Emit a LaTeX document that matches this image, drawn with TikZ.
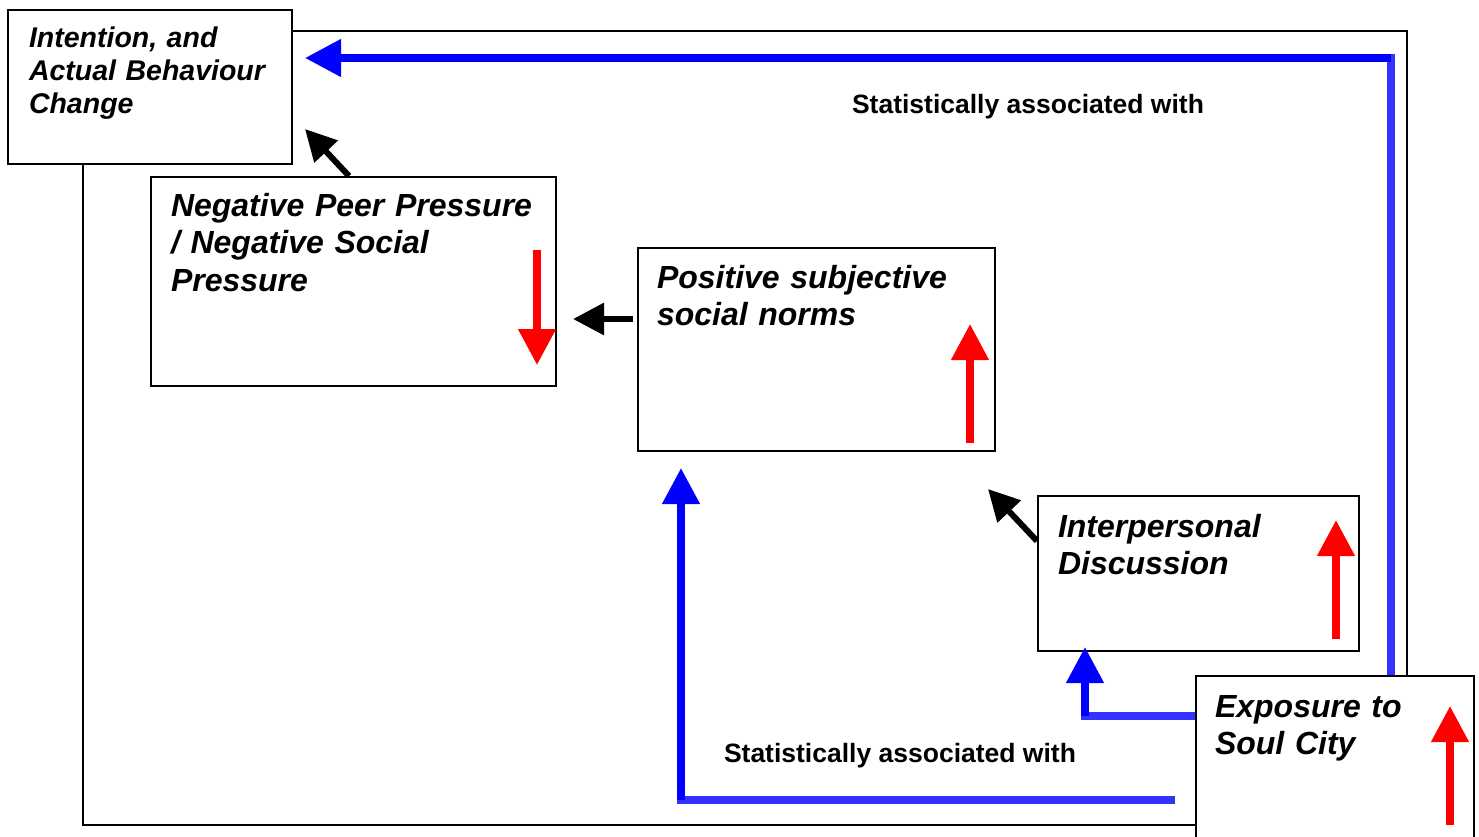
\documentclass[tikz,border=0pt]{standalone}
\usepackage{fontspec}
\setmainfont{Liberation Sans}
\usetikzlibrary{arrows.meta}
\definecolor{arrblue}{RGB}{0,0,255}
\definecolor{linkblue}{RGB}{51,51,255}
\definecolor{arrred}{RGB}{255,0,0}

\begin{document}
\begin{tikzpicture}[x=1pt, y=-1pt, line width=2pt] %[>=Triangle]
            \tikzstyle{every node}=[inner sep=0pt]
            \tikzstyle{box}=[draw, fill=white, anchor=north west]
            \tikzstyle{boxtext}=[anchor=base west, text width=420pt, align=left, font=\fontsize{32}{37.5}\selectfont\bfseries\itshape]
            \tikzstyle{stat}=[font=\fontsize{26.5}{30}\selectfont\bfseries]
            \tikzstyle{bluearr}=[arrblue, line width=7.5pt, -{Triangle[width=36pt,length=36pt]}]
            \tikzstyle{bluelink}=[linkblue, line width=7.5pt]
            \tikzstyle{redarr}=[arrred, line width=7.5pt, -{Triangle[width=36pt,length=36pt]}]
            \tikzstyle{blackarr}=[line width=6pt, -{Triangle[width=31pt,length=31pt]}]
            \useasboundingbox (0,0) rectangle (1479,837);

            % outer frame
            \coordinate (fr) at (1407, 31);
            \coordinate (fl) at (83, 825);
            \node[box, minimum width=284pt, minimum height=154pt] (intent) at (7, 9) {};
            \node[box, minimum width=278pt, minimum height=180pt] (expo) at (1195, 675) {};
            \draw (intent.east |- fr) -- (fr) -- (fr |- expo.north);
            \draw (fl |- intent.south) -- (fl) -- (fl -| expo.west);

            \node[box, minimum width=405pt, minimum height=209pt] (neg) at (150, 176) {};
            \node[box, minimum width=357pt, minimum height=203pt] (pos) at (637, 247) {};
            \node[box, minimum width=321pt, minimum height=155pt] (interp) at (1037, 495) {};

            \node[boxtext, font=\fontsize{28.5}{33}\selectfont\bfseries\itshape] (intenttxt) at (28, 48) {Intention, and\\Actual Behaviour\\Change};
            \node[boxtext] (negtxt) at (170, 216) {Negative Peer Pressure\\/ Negative Social\\Pressure};
            \node[boxtext] (postxt) at (656, 288) {Positive subjective\\social norms};
            \node[boxtext] (interptxt) at (1057, 537) {Interpersonal\\Discussion};
            \node[boxtext] (expotxt) at (1214, 717) {Exposure to\\Soul City};

            \node[stat] (stattop) at (1028, 107) {Statistically associated with};
            \node[stat] (statbot) at (900, 756) {Statistically associated with};

            % blue links
            \coordinate (tc) at (1391, 58);
            \coordinate (mc) at (1085, 716);
            \coordinate (bc) at (681, 800);
            \coordinate (bl) at (1175, 800);
            \draw[bluelink] (tc |- expo.north) -- ([yshift=3.75pt]tc);
            \draw[bluearr, shorten >=12pt] (tc) -- (intent.east |- tc);
            \draw[bluelink] (expo.west |- mc) -- ([xshift=-3.75pt]mc);
            \draw[bluearr, shorten >=-5pt] (mc) -- (mc |- interp.south);
            \draw[bluelink] (bl) -- ([xshift=-3.75pt]bc);
            \draw[bluearr, shorten >=16pt] (bc) -- (bc |- pos.south);

            % black links
            \draw[blackarr] ([xshift=199pt]neg.north west) -- ([xshift=12pt,yshift=36pt]intent.south east);
            \draw[blackarr] ([xshift=-4pt,yshift=30.5pt]pos.west) -- ([xshift=16pt,yshift=-37.5pt]neg.east);
            \draw[blackarr] ([yshift=-46pt]interp.north west) -- ([xshift=-8pt,yshift=-37pt]pos.south east);

            % red trend arrows
            \draw[redarr] ([xshift=-20pt,yshift=-74pt]neg.north east) -- ([xshift=-20pt,yshift=22pt]neg.south east);
            \draw[redarr] ([xshift=-26pt,yshift=9pt]pos.south east) -- ([xshift=-26pt,yshift=128pt]pos.south east);
            \draw[redarr] ([xshift=-24pt,yshift=13pt]interp.south east) -- ([xshift=-24pt,yshift=132pt]interp.south east);
            \draw[redarr] ([xshift=-25pt,yshift=-150pt]expo.north east) -- ([xshift=-25pt,yshift=-31pt]expo.north east);
        \end{tikzpicture}
\end{document}
